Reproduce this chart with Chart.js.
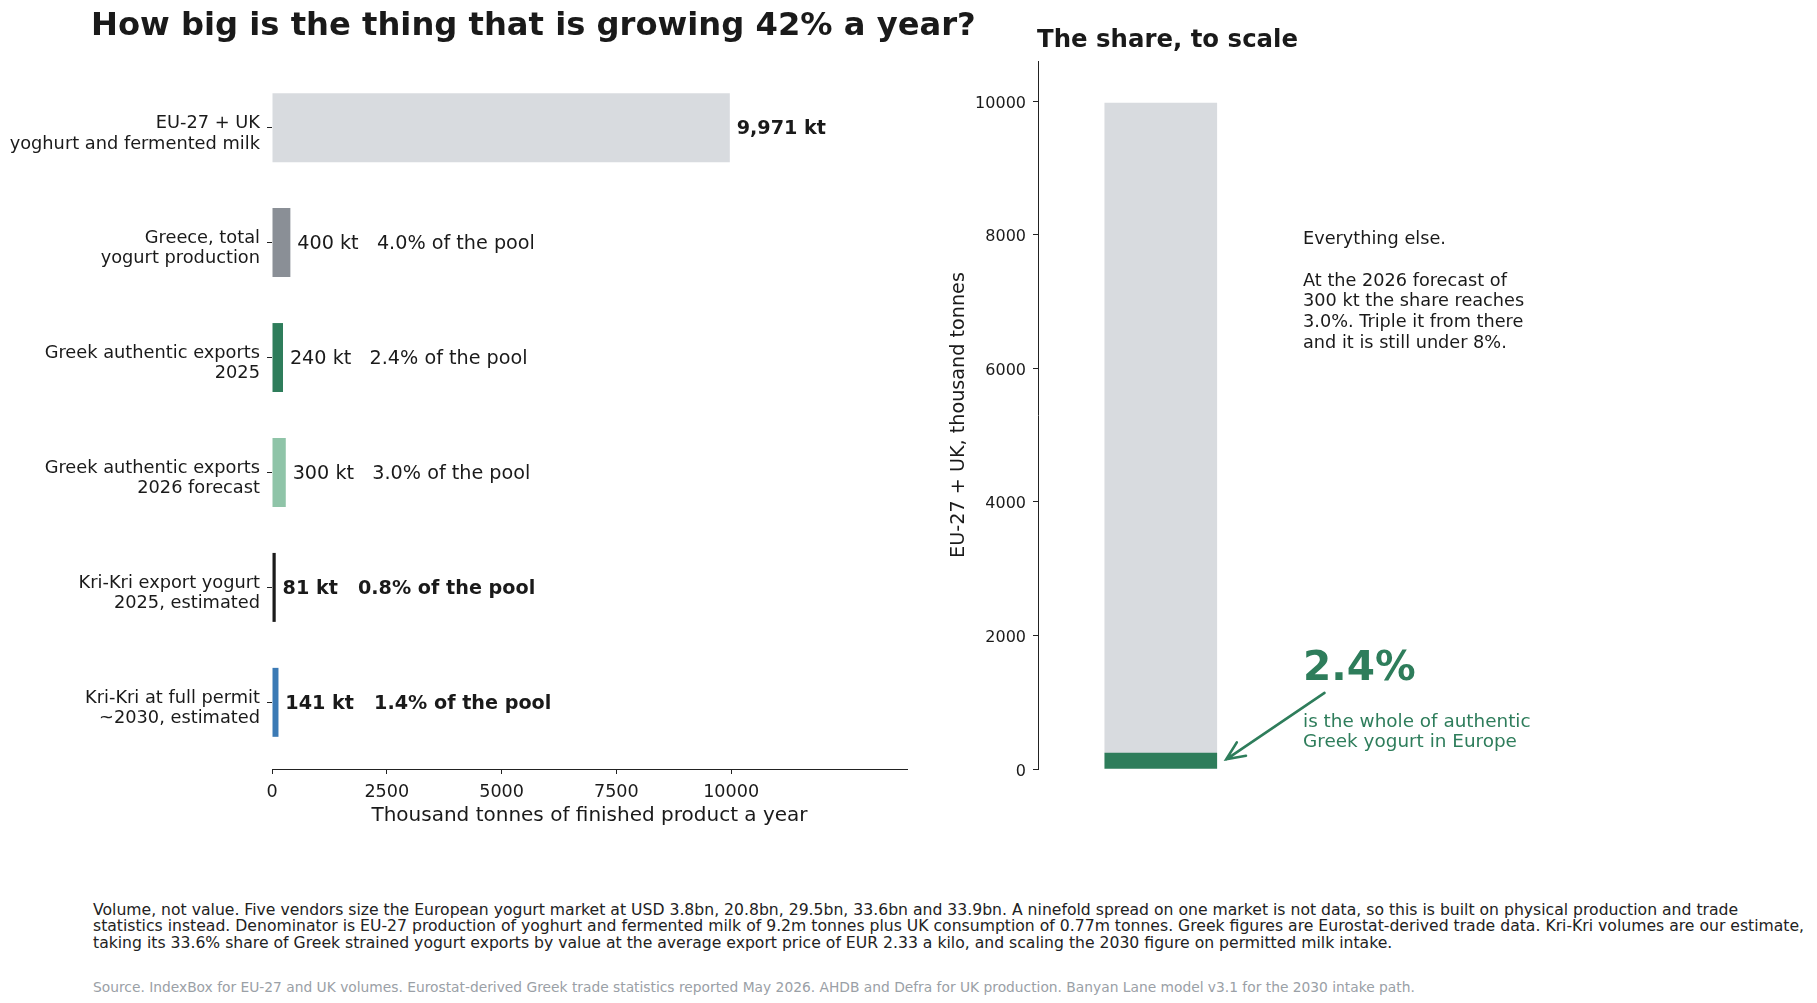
<!DOCTYPE html>
<html>
<head>
<meta charset="utf-8">
<script src="https://cdn.jsdelivr.net/npm/chart.js"></script>
<style>
  body { margin: 0; background: #fff; font-family: 'DejaVu Sans', sans-serif; color: #1a1a1a; }
  .page { position: relative; width: 1817px; height: 1003px; overflow: hidden; }
  canvas { position: absolute; top: 0; }
  #left { left: 0; }
  #right { left: 901px; }
  h1 { position: absolute; left: 91px; top: 8px; margin: 0; font-size: 32.2px; line-height: 32px; font-weight: bold; white-space: nowrap; }
  h2 { position: absolute; left: 1037px; top: 27px; margin: 0; font-size: 24.4px; line-height: 24px; font-weight: bold; white-space: nowrap; }
  .note { position: absolute; left: 93px; font-size: 15.65px; line-height: 16.3px; color: #222; white-space: nowrap; }
  .source { font-size: 13.8px; color: #9aa0a6; }
</style>
</head>
<body>
<div class="page">
  <canvas id="left" width="940" height="850"></canvas>
  <canvas id="right" width="916" height="850"></canvas>
  <h1>How big is the thing that is growing 42% a year?</h1>
  <h2>The share, to scale</h2>
  <div class="note" style="top:902px">Volume, not value. Five vendors size the European yogurt market at USD 3.8bn, 20.8bn, 29.5bn, 33.6bn and 33.9bn. A ninefold spread on one market is not data, so this is built on physical production and trade</div>
  <div class="note" style="top:918.3px">statistics instead. Denominator is EU-27 production of yoghurt and fermented milk of 9.2m tonnes plus UK consumption of 0.77m tonnes. Greek figures are Eurostat-derived trade data. Kri-Kri volumes are our estimate,</div>
  <div class="note" style="top:934.6px">taking its 33.6% share of Greek strained yogurt exports by value at the average export price of EUR 2.33 a kilo, and scaling the 2030 figure on permitted milk intake.</div>
  <div class="note source" style="top:979px">Source. IndexBox for EU-27 and UK volumes. Eurostat-derived Greek trade statistics reported May 2026. AHDB and Defra for UK production. Banyan Lane model v3.1 for the 2030 intake path.</div>
</div>

<script>
  // data
  const categories = [
    ['EU-27 + UK', 'yoghurt and fermented milk'],
    ['Greece, total', 'yogurt production'],
    ['Greek authentic exports', '2025'],
    ['Greek authentic exports', '2026 forecast'],
    ['Kri-Kri export yogurt', '2025, estimated'],
    ['Kri-Kri at full permit', '~2030, estimated']
  ];
  const volumes = [9971, 400, 240, 300, 81, 141];
  const barColors = ['#d8dbdf', '#8a8f96', '#2e7d5b', '#8fc4a8', '#1b1b1b', '#3b7ab5'];
  const boldRows = [true, false, false, false, true, true];
  const xTicks = [0, 2500, 5000, 7500, 10000];
  const yTicksRight = [0, 2000, 4000, 6000, 8000, 10000];

  const noteLines = ['Everything else.', '', 'At the 2026 forecast of', '300 kt the share reaches', '3.0%. Triple it from there', 'and it is still under 8%.'];
  const subLines = ['is the whole of authentic', 'Greek yogurt in Europe'];

  const poolTotal = volumes[0];
  const greekExports = volumes[2];
  const green = '#2e7d5b';
  const ink = '#1a1a1a';

  Chart.defaults.font.family = "'DejaVu Sans', sans-serif";
  Chart.defaults.color = ink;

  function labelText(v, i) {
    if (i === 0) return v.toLocaleString('en-US') + ' kt';
    return v + ' kt   ' + (v / poolTotal * 100).toFixed(1) + '% of the pool';
  }

  // value labels at the end of each bar
  const valueLabels = {
    id: 'valueLabels',
    afterDatasetsDraw(chart) {
      const { ctx, scales: { x, y } } = chart;
      ctx.save();
      ctx.fillStyle = ink;
      ctx.textBaseline = 'middle';
      volumes.forEach((v, i) => {
        ctx.font = (boldRows[i] ? 'bold ' : '') + "19.2px 'DejaVu Sans'";
        ctx.fillText(labelText(v, i), x.getPixelForValue(v + 150), y.getPixelForValue(i) + 1.5);
      });
      ctx.restore();
    }
  };

  new Chart(document.getElementById('left'), {
    type: 'bar',
    data: {
      datasets: [{
        data: volumes.map((v, i) => ({ x: v, y: i })),
        backgroundColor: barColors,
        categoryPercentage: 0.6,
        barPercentage: 1.0
      }]
    },
    options: {
      indexAxis: 'y',
      responsive: false,
      animation: false,
      layout: { padding: { left: 0, top: 61, right: 33, bottom: 11 } },
      plugins: { legend: { display: false }, tooltip: { enabled: false } },
      scales: {
        y: {
          type: 'linear',
          reverse: true,
          offset: false,
          min: -0.58,
          max: 5.58,
          afterBuildTicks: scale => { scale.ticks = categories.map((c, i) => ({ value: i })); },
          afterFit: scale => { scale.width = 272; },
          border: { display: false },
          grid: { offset: false, drawOnChartArea: false, drawTicks: true, tickLength: 5, color: '#222' },
          ticks: {
            padding: 7,
            labelOffset: 6,
            color: ink,
            font: { size: 17.8, lineHeight: 1.15 },
            callback: value => categories[value]
          }
        },
        x: {
          type: 'linear',
          min: 0,
          max: 13830,
          afterBuildTicks: scale => { scale.ticks = xTicks.map(v => ({ value: v })); },
          afterFit: scale => { scale.height = 70; },
          border: { display: true, color: '#222', width: 1 },
          grid: { drawOnChartArea: false, drawTicks: true, tickLength: 5, color: '#222' },
          ticks: { padding: 8, color: ink, font: { size: 17.6 }, callback: v => String(v) },
          title: {
            display: true,
            text: 'Thousand tonnes of finished product a year',
            color: ink,
            font: { size: 20 },
            padding: { top: 0, bottom: 10.8 }
          }
        }
      }
    },
    plugins: [valueLabels]
  });

  // notes and arrow beside the stacked bar
  const shareNotes = {
    id: 'shareNotes',
    afterDatasetsDraw(chart) {
      const { ctx, scales: { x, y } } = chart;
      const left = x.getPixelForValue(0.7) - 1;
      ctx.save();
      ctx.fillStyle = ink;
      ctx.font = "17.7px 'DejaVu Sans'";
      ctx.textBaseline = 'top';
      const top = y.getPixelForValue(8065);
      noteLines.forEach((line, k) => ctx.fillText(line, left, top + k * 20.9));

      ctx.fillStyle = green;
      ctx.font = "bold 40.6px 'DejaVu Sans'";
      ctx.textBaseline = 'middle';
      ctx.fillText((greekExports / poolTotal * 100).toFixed(1) + '%', left, y.getPixelForValue(1490));

      ctx.font = "18.4px 'DejaVu Sans'";
      ctx.textBaseline = 'alphabetic';
      const base = y.getPixelForValue(625);
      subLines.forEach((line, k) => ctx.fillText(line, left, base + k * 20));

      // arrow pointing at the green slice
      const x0 = x.getPixelForValue(0.8), y0 = y.getPixelForValue(1140);
      const x1 = x.getPixelForValue(0.32), y1 = y.getPixelForValue(145);
      const ang = Math.atan2(y0 - y1, x0 - x1);
      const head = 20, spread = 0.42;
      ctx.strokeStyle = green;
      ctx.lineWidth = 2.6;
      ctx.lineCap = 'round';
      ctx.beginPath();
      ctx.moveTo(x0, y0);
      ctx.lineTo(x1, y1);
      ctx.moveTo(x1 + head * Math.cos(ang - spread), y1 + head * Math.sin(ang - spread));
      ctx.lineTo(x1, y1);
      ctx.lineTo(x1 + head * Math.cos(ang + spread), y1 + head * Math.sin(ang + spread));
      ctx.stroke();
      ctx.restore();
    }
  };

  new Chart(document.getElementById('right'), {
    type: 'bar',
    data: {
      datasets: [
        { data: [{ x: 0, y: greekExports }], backgroundColor: green, barThickness: 112 },
        { data: [{ x: 0, y: poolTotal - greekExports }], backgroundColor: barColors[0], barThickness: 112 }
      ]
    },
    options: {
      responsive: false,
      animation: false,
      layout: { padding: { left: 0, top: 61, right: 206, bottom: 81 } },
      plugins: { legend: { display: false }, tooltip: { enabled: false } },
      scales: {
        x: { type: 'linear', min: -0.6, max: 2.2, stacked: true, offset: false, grid: { offset: false }, display: false },
        y: {
          type: 'linear',
          stacked: true,
          min: 0,
          max: 10600,
          afterBuildTicks: scale => { scale.ticks = yTicksRight.map(v => ({ value: v })); },
          afterFit: scale => { scale.width = 137; },
          border: { display: true, color: '#222', width: 1 },
          grid: { drawOnChartArea: false, drawTicks: true, tickLength: 5, color: '#222' },
          ticks: { padding: 7, labelOffset: 2.5, color: ink, font: { size: 16 }, callback: v => String(v) },
          title: {
            display: true,
            text: 'EU-27 + UK, thousand tonnes',
            color: ink,
            font: { size: 19.2 },
            padding: { top: 46.5, bottom: 0 }
          }
        }
      }
    },
    plugins: [shareNotes]
  });
</script>
</body>
</html>
